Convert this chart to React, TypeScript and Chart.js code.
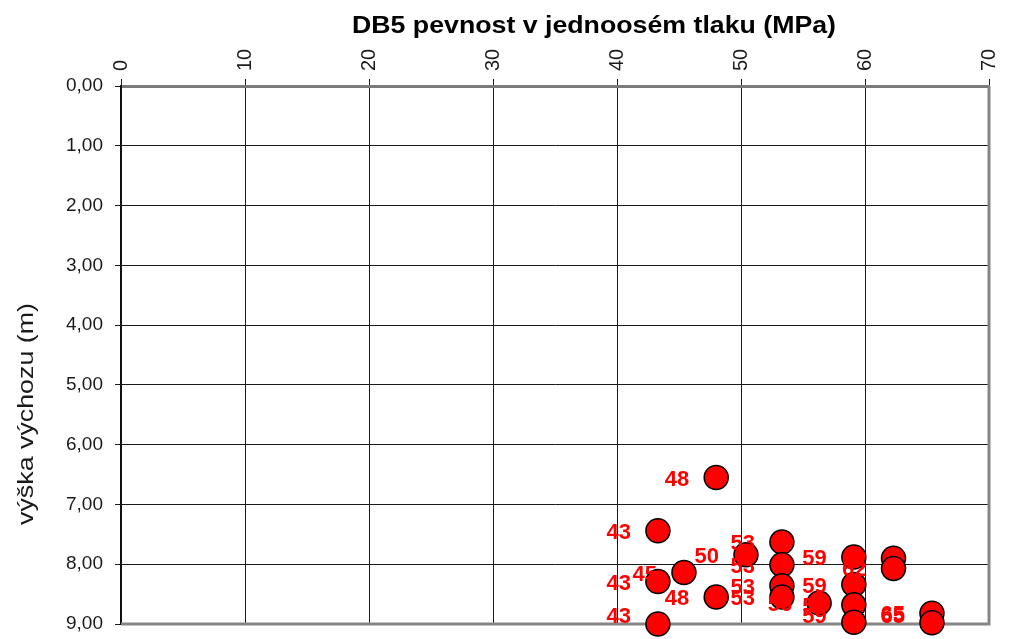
import { useEffect, useRef } from 'react';
import { Chart, registerables } from 'chart.js';

Chart.register(...registerables);

// Uniaxial compressive strength (MPa) for each sample
const strengthMPa = [48.0, 43.3, 53.3, 50.4, 53.3, 45.4, 43.3, 53.3, 48.0, 53.3, 43.3, 56.3, 59.1, 59.1, 59.1, 59.1, 62.3, 62.3, 65.4, 65.4];
// Height of outcrop (m) for each sample
const heightM = [6.55, 7.44, 7.63, 7.84, 8.01, 8.14, 8.29, 8.36, 8.55, 8.55, 9.0, 8.65, 7.88, 8.34, 8.68, 8.97, 7.9, 8.07, 8.82, 8.98];

const xMin = 0;
const xMax = 70;
const xStep = 10;
const yMin = 0;
const yMax = 9;
const yStep = 1;

const chartTitle = 'DB5 pevnost v jednoosém tlaku (MPa)';
const yAxisTitle = 'výška výchozu (m)';

const FONT = "'Liberation Sans', Arial, sans-serif";

export default function App() {
  const ref = useRef<HTMLCanvasElement | null>(null);

  useEffect(() => {
    const canvas = ref.current;
    if (!canvas) return;

    const points = strengthMPa.map((v, i) => ({ x: v, y: heightM[i] }));

    const framePlugin = {
      id: 'frame',
      beforeDatasetsDraw(chart: any) {
        const { ctx, chartArea: a } = chart;
        ctx.save();
        ctx.strokeStyle = '#868686';
        ctx.lineWidth = 3;
        ctx.beginPath();
        ctx.moveTo(a.left, a.bottom);
        ctx.lineTo(a.right, a.bottom);
        ctx.lineTo(a.right, a.top);
        ctx.stroke();
        ctx.restore();
      },
    };

    const labelPlugin = {
      id: 'pointLabels',
      afterDatasetsDraw(chart: any) {
        const { ctx, chartArea: a } = chart;
        const meta = chart.getDatasetMeta(0);
        ctx.save();
        ctx.font = `bold 22px ${FONT}`;
        ctx.fillStyle = '#ff0000';
        ctx.textAlign = 'right';
        ctx.textBaseline = 'middle';
        meta.data.forEach((el: any, i: number) => {
          const txt = String(Math.round(strengthMPa[i]));
          const y = Math.min(el.y + 2, a.bottom - 7);
          ctx.fillText(txt, el.x - 27, y);
        });
        ctx.restore();
      },
    };

    const titlesPlugin = {
      id: 'titles',
      afterDraw(chart: any) {
        const { ctx } = chart;
        ctx.save();
        ctx.fillStyle = '#000';
        ctx.font = `bold 23px ${FONT}`;
        const w = ctx.measureText(chartTitle).width;
        ctx.translate(594, 33);
        ctx.scale(484 / w, 1);
        ctx.textAlign = 'center';
        ctx.textBaseline = 'alphabetic';
        ctx.fillText(chartTitle, 0, 0);
        ctx.restore();

        ctx.save();
        ctx.fillStyle = '#1a1a1a';
        ctx.font = `22px ${FONT}`;
        const w2 = ctx.measureText(yAxisTitle).width;
        ctx.translate(33, 414);
        ctx.rotate(-Math.PI / 2);
        ctx.scale(222 / w2, 1);
        ctx.textAlign = 'center';
        ctx.textBaseline = 'alphabetic';
        ctx.fillText(yAxisTitle, 0, 0);
        ctx.restore();
      },
    };

    const chart = new Chart(canvas, {
      type: 'scatter',
      data: {
        datasets: [
          {
            data: points,
            backgroundColor: '#ff0000',
            borderColor: '#000000',
            borderWidth: 1.5,
            pointRadius: 12,
            pointHoverRadius: 12,
            clip: false as any,
          },
        ],
      },
      options: {
        animation: false,
        responsive: false,
        devicePixelRatio: 1,
        layout: { padding: { left: 0, top: 0, right: 27, bottom: 15 } },
        plugins: {
          legend: { display: false },
          title: { display: false },
          tooltip: { enabled: false },
        },
        scales: {
          x: {
            type: 'linear',
            position: 'top',
            min: xMin,
            max: xMax,
            afterFit(scale: any) {
              scale.height = 86;
              scale.paddingLeft = 0;
              scale.paddingRight = 0;
              scale.paddingTop = 0;
              scale.paddingBottom = 0;
            },
            ticks: {
              stepSize: xStep,
              minRotation: 90,
              maxRotation: 90,
              padding: 8,
              labelOffset: 24,
              color: '#1a1a1a',
              font: { family: FONT, size: 20 },
            },
            grid: {
              color: '#1a1a1a',
              lineWidth: 1,
              tickLength: 7,
              drawTicks: true,
            },
            border: { color: '#7a7a7a', width: 3 },
          },
          y: {
            type: 'linear',
            position: 'left',
            reverse: true,
            min: yMin,
            max: yMax,
            afterFit(scale: any) {
              scale.width = 121;
              scale.paddingLeft = 0;
              scale.paddingRight = 0;
              scale.paddingTop = 0;
              scale.paddingBottom = 0;
            },
            ticks: {
              stepSize: yStep,
              padding: 12,
              color: '#1a1a1a',
              font: { family: FONT, size: 19 },
              callback: (v: any) => Number(v).toFixed(2).replace('.', ','),
            },
            grid: {
              color: '#1a1a1a',
              lineWidth: 1,
              tickLength: 6,
              drawTicks: true,
            },
            border: { color: '#111111', width: 2 },
          },
        },
      },
      plugins: [framePlugin, labelPlugin, titlesPlugin],
    });

    return () => chart.destroy();
  }, []);

  return (
    <div style={{ position: 'fixed', left: 0, top: 0, width: 1016, height: 639, background: '#fff' }}>
      <canvas ref={ref} width={1016} height={639} style={{ display: 'block' }} />
    </div>
  );
}
